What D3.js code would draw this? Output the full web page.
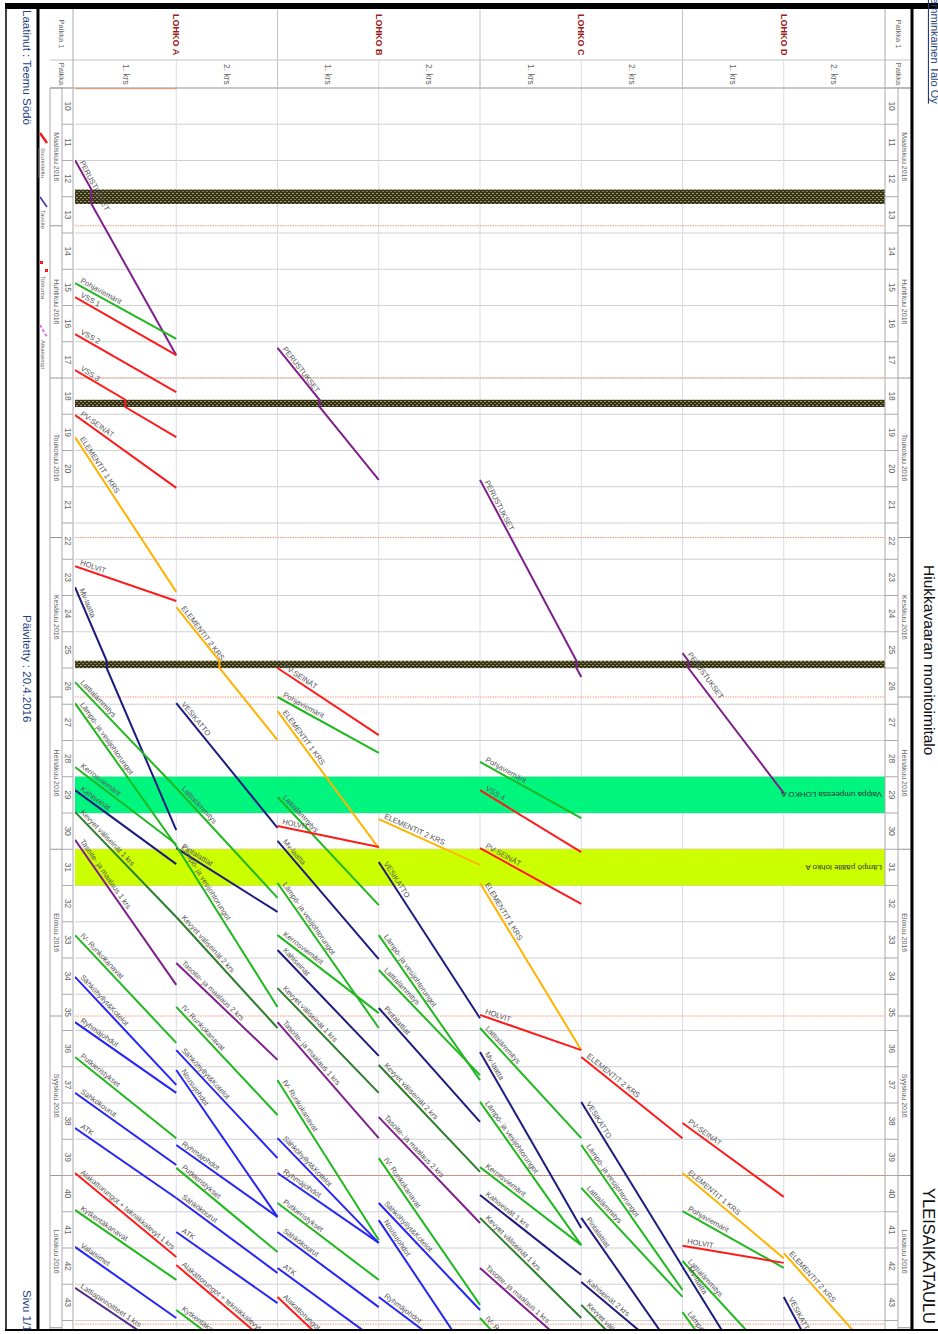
<!DOCTYPE html>
<html><head><meta charset="utf-8">
<script src="https://cdn.jsdelivr.net/npm/d3@7"></script>
<style>body{margin:0;background:#fff}svg{display:block}text{font-family:"Liberation Sans",Arial,sans-serif}</style>
</head><body><svg id="c" width="938" height="1334"></svg>
<script>
// ---------- DATA ----------
const lohkot = ["LOHKO A","LOHKO B","LOHKO C","LOHKO D"];
const kerrokset = ["1. krs","2. krs"];
const columns = ["A1","A2","B1","B2","C1","C2","D1","D2"];
const weekTicks = [10,11,12,13,14,15,16,17,18,19,20,21,22,23,24,25,26,27,28,29,30,31,32,33,34,35,36,37,38,39,40,41,42,43,44];
const months = [
  ["Maaliskuu 2016",10,13.8],["Huhtikuu 2016",13.8,18.0],["Toukokuu 2016",18.0,22.4],
  ["Kesäkuu 2016",22.4,26.8],["Heinäkuu 2016",26.8,31.0],["Elokuu 2016",31.0,35.6],
  ["Syyskuu 2016",35.6,40.0],["Lokakuu 2016",40.0,44.2]];
const holidays = [[12.8,13.2],[18.6,18.8],[25.8,26.0]];
const milestones = [["Vaippa umpeessa LOHKO A",29,30,"#00f57f"],["Lämpö päälle lohko A",31,32,"#ccff00"]];
const palette = {red:"#ff1a1a",green:"#1fb81f",dkgreen:"#2b7d2b",navy:"#1c1c80",blue:"#2525f5",
  purple:"#7e1f8c",orange:"#ffb300",indigo:"#4f2a90"};
// [column, task, colour, start week, end week]
const tasks = [
["A1","PERUSTUKSET","purple",11.99,17.37],
["A1","Pohjaviemärit","green",15.38,16.92],
["A1","VSS 1","red",15.77,17.37],
["A1","VSS 2","red",16.79,18.39],
["A1","VSS 3","red",17.78,19.63],
["A1","PV-SEINÄT","red",19.02,21.03],
["A1","ELEMENTIT 1 KRS","orange",19.63,23.90],
["A1","HOLVIT","red",23.19,24.15],
["A1","Mv-laatta","navy",23.77,30.47],
["A1","Lattialämmitys","green",26.39,29.31],
["A1","Lämpö- ja vesijohtorungot","green",26.97,30.91],
["A1","Kerrosviemärit","green",28.73,30.86],
["A1","Kahiseinät","navy",29.37,31.41],
["A1","Kevyet väliseinät 1 krs","dkgreen",29.97,32.87],
["A1","Tasoite- ja maalaus 1 krs","purple",30.74,34.74],
["A1","IV- Runkokanavat","green",33.37,36.34],
["A1","Sähköhyllyt&Kotelot","blue",34.52,37.50],
["A1","Ryhmäjohdot","blue",35.77,37.72],
["A1","Putkieristykset","green",36.73,38.97],
["A1","Sähkökourut","blue",37.72,39.71],
["A1","ATK","blue",38.69,40.62],
["A1","Alakattorungot + tekniikkalevyt 1 krs","red",39.93,42.25],
["A1","Kytkentäkanavat","green",40.95,42.88],
["A1","Valaisimet","blue",41.97,43.93],
["A1","Lattiapinnoitteet 1 krs","indigo",43.10,44.98],
["A2","ELEMENTIT 2 KRS","orange",24.32,27.99],
["A2","VESIKATTO","navy",26.97,30.41],
["A2","Lattialämmitys","green",29.31,32.34],
["A2","Pintalattiat","navy",30.97,32.73],
["A2","Lämpö- ja vesijohtorungot","green",30.91,35.35],
["A2","Kevyet väliseinät 2 krs","dkgreen",32.87,35.93],
["A2","Tasoite- ja maalaus 2 krs","purple",34.14,36.81],
["A2","IV- Runkokanavat","green",35.35,38.33],
["A2","Sähköhyllyt&Kotelot","blue",36.54,39.52],
["A2","Nousujohdot","blue",37.09,41.14],
["A2","Ryhmäjohdot","blue",39.16,41.14],
["A2","Putkieristykset","green",39.79,42.11],
["A2","Sähkökourut","blue",40.62,42.69],
["A2","ATK","blue",41.56,43.52],
["A2","Alakattorungot + tekniikkalevyt 2 krs","red",42.47,44.84],
["A2","Kytkentäkanavat","green",43.71,45.81],
["B1","PERUSTUKSET","purple",17.17,20.81],
["B1","PV-SEINÄT","red",26.0,27.85],
["B1","Pohjaviemärit","green",26.8,28.34],
["B1","ELEMENTIT 1 KRS","orange",27.19,30.97],
["B1","Lattialämmitys","green",29.56,32.54],
["B1","HOLVIT","red",30.36,30.94],
["B1","Mv-laatta","navy",30.77,34.03],
["B1","Lämpö- ja vesijohtorungot","green",31.93,35.93],
["B1","Kerrosviemärit","green",33.37,35.52],
["B1","Kahiseinät","navy",33.78,36.70],
["B1","Kevyet väliseinät 1 krs","dkgreen",34.83,37.72],
["B1","Tasoite- ja maalaus 1 krs","purple",35.77,38.97],
["B1","IV- Runkokanavat","green",37.37,41.78],
["B1","Sähköhyllyt&Kotelot","blue",38.97,41.86],
["B1","Ryhmäjohdot","blue",39.93,41.86],
["B1","Putkieristykset","green",40.76,42.88],
["B1","Sähkökourut","blue",41.56,43.63],
["B1","ATK","blue",42.55,44.59],
["B1","Alakattorungot","red",43.35,46.0],
["B2","ELEMENTIT 2 KRS","orange",30.17,31.43],
["B2","VESIKATTO","navy",31.35,35.66],
["B2","Lämpö- ja vesijohtorungot","green",33.37,37.37],
["B2","Lattialämmitys","green",34.33,37.23],
["B2","Pintalattiat","navy",35.38,38.52],
["B2","Kevyet väliseinät 2 krs","dkgreen",36.95,39.90],
["B2","Tasoite- ja maalaus 2 krs","purple",38.39,41.31],
["B2","IV- Runkokanavat","green",39.52,43.57],
["B2","Sähköhyllyt&Kotelot","blue",40.76,43.71],
["B2","Nousujohdot","blue",41.23,45.42],
["B2","Ryhmäjohdot","blue",43.35,45.45],
["C1","PERUSTUKSET","purple",20.81,26.25],
["C1","Pohjaviemärit","green",28.59,30.14],
["C1","VSS 4","red",29.37,31.08],
["C1","PV-SEINÄT","red",30.97,32.51],
["C1","ELEMENTIT 1 KRS","orange",31.93,36.54],
["C1","HOLVIT","red",35.57,36.54],
["C1","Lattialämmitys","green",35.93,38.97],
["C1","Mv-laatta","navy",36.59,41.45],
["C1","Lämpö- ja vesijohtorungot","green",37.97,41.92],
["C1","Kerrosviemärit","green",39.77,41.92],
["C1","Kahiseinät 1 krs","navy",40.54,42.74],
["C1","Kevyet väliseinät 1 krs","dkgreen",41.17,43.93],
["C1","Tasoite- ja maalaus 1 krs","purple",42.55,45.03],
["C1","IV- Runkokanavat","green",43.93,46.96],
["C2","ELEMENTIT 2 KRS","red",36.73,38.97],
["C2","VESIKATTO","navy",37.97,42.52],
["C2","Lämpö- ja vesijohtorungot","green",39.16,43.16],
["C2","Lattialämmitys","green",40.34,43.35],
["C2","Pintalattiat","navy",41.17,45.17],
["C2","Kahiseinät 2 krs","navy",42.94,45.28],
["C2","Kevyet väliseinät 2 krs","dkgreen",43.57,46.39],
["D1","PERUSTUKSET","purple",25.59,29.45],
["D1","PV-SEINÄT","red",38.55,40.59],
["D1","ELEMENTIT 1 KRS","orange",39.93,42.28],
["D1","Pohjaviemärit","green",40.98,42.55],
["D1","HOLVIT","red",41.94,42.41],
["D1","Lattialämmitys","green",42.36,45.39],
["D1","Mv-laatta","navy",42.52,47.02],
["D1","Lämpö- ja vesijohtorungot","green",43.77,47.66],
["D2","ELEMENTIT 2 KRS","orange",42.14,45.26],
["D2","VESIKATTO","navy",43.35,48.59]
];

// ---------- LAYOUT ----------
const svg = d3.select("#c");
const X0 = 75, X1 = 885, Y0 = 88, YB = 1330;
const x = d3.scaleBand().domain(columns).range([X0, X1]);
const y = d3.scaleLinear().domain([10, 44]).range([Y0, Y0 + 34 * 36.25]);
const lx = d3.scaleBand().domain(lohkot).range([X0, X1]);

function vtext(g, px, py, str, o = {}) {
  return g.append("text").attr("transform", `translate(${px},${py}) rotate(90)`)
    .attr("text-anchor", o.anchor || "middle").attr("dominant-baseline", "central")
    .attr("font-size", o.size || 8).attr("fill", o.fill || "#666")
    .attr("font-weight", o.weight || "normal").text(str);
}

const defs = svg.append("defs");
defs.append("clipPath").attr("id", "plot").append("rect")
  .attr("x", X0).attr("y", Y0).attr("width", X1 - X0).attr("height", YB - Y0);
const pat = defs.append("pattern").attr("id", "hatch").attr("patternUnits", "userSpaceOnUse")
  .attr("width", 4).attr("height", 4);
pat.append("rect").attr("width", 4).attr("height", 4).attr("fill", "#35331b");
pat.append("rect").attr("x", 0).attr("y", 1).attr("width", 2).attr("height", 1).attr("fill", "#a6a260");
pat.append("rect").attr("x", 2).attr("y", 3).attr("width", 2).attr("height", 1).attr("fill", "#847f48");

// grid: weeks
const grid = svg.append("g");
weekTicks.forEach(w => {
  grid.append("line").attr("x1", X0).attr("x2", X1).attr("y1", y(w)).attr("y2", y(w))
    .attr("stroke", w === 40 ? "#888" : "#cfcfcf").attr("stroke-width", 1);
});
// column separators
columns.slice(1).forEach(c => {
  grid.append("line").attr("x1", x(c)).attr("x2", x(c)).attr("y1", 60).attr("y2", YB)
    .attr("stroke", "#d9dcea").attr("stroke-width", 1);
});
// month boundaries (dotted orange)
months.slice(1).map(m => m[1]).concat([44.1]).forEach(w => {
  grid.append("line").attr("x1", X0).attr("x2", X1).attr("y1", y(w)).attr("y2", y(w))
    .attr("stroke", "#f29a7a").attr("stroke-width", 1).attr("stroke-dasharray", "1.5,1");
});

// milestone bands
const plot = svg.append("g").attr("clip-path", "url(#plot)");
milestones.forEach(m => {
  plot.append("rect").attr("x", X0).attr("width", X1 - X0).attr("y", y(m[1])).attr("height", y(m[2]) - y(m[1]))
    .attr("fill", m[3]);
});
holidays.forEach(h => {
  plot.append("rect").attr("x", X0).attr("width", X1 - X0).attr("y", y(h[0])).attr("height", y(h[1]) - y(h[0]))
    .attr("fill", "url(#hatch)");
});
// small orange line at top of A1
plot.append("line").attr("x1", x("A1")).attr("x2", x("A1") + x.bandwidth()).attr("y1", y(10) + 0.5).attr("y2", y(10) + 0.5)
  .attr("stroke", "#f5a050").attr("stroke-width", 1.5);

// task flow lines (vertical jog during holidays)
function pointsFor(t) {
  const s = t[3], e = t[4];
  const work = w => { let v = w - s; holidays.forEach(([a, b]) => { v -= Math.max(0, Math.min(w, b) - Math.max(s, a)); }); return v; };
  const brk = [s];
  holidays.forEach(([a, b]) => { if (a > s && a < e) brk.push(a); if (b > s && b < e) brk.push(b); });
  brk.push(e); brk.sort((p, q) => p - q);
  const tot = work(e);
  return brk.map(w => [x(t[0]) + x.bandwidth() * work(w) / tot, y(w)]);
}
const line = d3.line();
const labels = svg.append("g").attr("clip-path", "url(#plot)");
tasks.forEach(t => {
  const pts = pointsFor(t);
  plot.append("path").attr("d", line(pts)).attr("fill", "none")
    .attr("stroke", palette[t[2]]).attr("stroke-width", 2);
  const p0 = pts[0], p1 = pts[pts.length - 1];
  const ang = Math.atan2(p1[1] - p0[1], p1[0] - p0[0]) * 180 / Math.PI;
  labels.append("text").attr("transform", `translate(${p0[0]},${p0[1]}) rotate(${ang})`)
    .attr("x", 4).attr("y", -3).attr("font-size", 7.5).attr("fill", "#555").text(t[1]);
});
// milestone texts (upside down)
milestones.forEach(m => {
  svg.append("text").attr("transform", `translate(${X1 - 3},${(y(m[1]) + y(m[2])) / 2}) rotate(180)`)
    .attr("text-anchor", "start").attr("dominant-baseline", "central")
    .attr("font-size", 8).attr("fill", "#333").text(m[0]);
});

// ---------- FRAME / HEADER ----------
const fr = svg.append("g");
const L = (x1, y1, x2, y2, c, w) => fr.append("line").attr("x1", x1).attr("y1", y1).attr("x2", x2).attr("y2", y2)
  .attr("stroke", c).attr("stroke-width", w);
L(50, 60, 912, 60, "#c4c4c4", 1);
L(50, Y0, 912, Y0, "#aaa", 1);
L(X0 - 2, 9, X0 - 2, YB, "#aaa", 1);
L(X1, 9, X1, YB, "#aaa", 1);
lohkot.slice(1).forEach(l => L(lx(l), 9, lx(l), Y0, "#c4c4c4", 1));
[50, 62].forEach(v => L(v, Y0, v, YB, "#aaa", 1));
[898, 911].forEach(v => L(v, Y0, v, YB, "#aaa", 1));
weekTicks.forEach(w => { L(62, y(w), 73, y(w), "#aaa", 1); L(885, y(w), 898, y(w), "#aaa", 1); });
months.forEach(m => { L(50, y(m[1]), 62, y(m[1]), "#999", 1); L(898, y(m[1]), 911, y(m[1]), "#999", 1); });
L(50, y(44.2), 62, y(44.2), "#999", 1); L(898, y(44.2), 911, y(44.2), "#999", 1);

const tx = svg.append("g");
weekTicks.forEach(w => {
  const cy = y(w + 0.5);
  if (cy < YB) { vtext(tx, 67.5, cy, String(w), {size: 8.5}); vtext(tx, 891.5, cy, String(w), {size: 8.5}); }
});
months.forEach(m => {
  const cy = (y(m[1]) + y(Math.min(m[2], 44.2))) / 2;
  vtext(tx, 56, cy, m[0], {size: 7}); vtext(tx, 904.5, cy, m[0], {size: 7});
});
vtext(tx, 61, 34, "Paikka 1", {size: 7.5}); vtext(tx, 61, 74, "Paikka", {size: 7.5});
vtext(tx, 898, 34, "Paikka 1", {size: 7.5}); vtext(tx, 898, 74, "Paikka", {size: 7.5});
lohkot.forEach(l => vtext(tx, lx(l) + lx.bandwidth() / 2, 14, l, {anchor: "start", size: 9, weight: "bold", fill: "#9b1b1b"}));
columns.forEach((c, i) => vtext(tx, x(c) + x.bandwidth() / 2, 64, kerrokset[i % 2], {anchor: "start", size: 8.5, fill: "#666"}));

// legend
const lg = svg.append("g");
lg.append("line").attr("x1", 40).attr("y1", 133).attr("x2", 47).attr("y2", 143).attr("stroke", "#ff1a1a").attr("stroke-width", 2.5);
vtext(lg, 43, 148, "Suunniteltu", {anchor: "start", size: 6}).attr("text-decoration", "underline");
lg.append("line").attr("x1", 40).attr("y1", 197).attr("x2", 47).attr("y2", 207).attr("stroke", "#3535a5").attr("stroke-width", 1.5);
vtext(lg, 43, 210, "Tavoite", {anchor: "start", size: 6});
lg.append("rect").attr("x", 40).attr("y", 261).attr("width", 3).attr("height", 3).attr("fill", "#ff1a1a");
lg.append("rect").attr("x", 45).attr("y", 269).attr("width", 3).attr("height", 3).attr("fill", "#ff1a1a");
vtext(lg, 43, 276, "Toteuma", {anchor: "start", size: 6});
lg.append("line").attr("x1", 40).attr("y1", 325).attr("x2", 47).attr("y2", 337).attr("stroke", "#e070e8").attr("stroke-width", 2).attr("stroke-dasharray", "3,2");
vtext(lg, 43, 340, "Aikaisempi", {anchor: "start", size: 6});

// borders
L(6, 4, 6, YB, "#000", 1.5);
L(38, 4, 38, YB, "#000", 3);
L(912, 4, 912, YB, "#000", 3);
L(5, YB, 938, YB, "#000", 2);
fr.append("rect").attr("x", 5).attr("y", 3).attr("width", 933).attr("height", 6).attr("fill", "#000");

// side texts
vtext(tx, 27, 10, "Laatinut : Teemu Södö", {anchor: "start", size: 11.5, fill: "#1f3f7f"});
vtext(tx, 27, 615, "Päivitetty : 20.4.2016", {anchor: "start", size: 11.5, fill: "#1f3f7f"});
vtext(tx, 27, 1290, "Sivu 1/1", {anchor: "start", size: 11.5, fill: "#1f3f7f"});
vtext(tx, 935, -8, "Lemminkäinen Talo Oy", {anchor: "start", size: 11, fill: "#1f3f7f"}).attr("text-decoration", "underline");
vtext(tx, 929, 565, "Hiukkavaaran monitoimitalo", {anchor: "start", size: 15.5, fill: "#111"});
vtext(tx, 929, 1188, "YLEISAIKATAULU", {anchor: "start", size: 16.5, fill: "#111"});
</script></body></html>
